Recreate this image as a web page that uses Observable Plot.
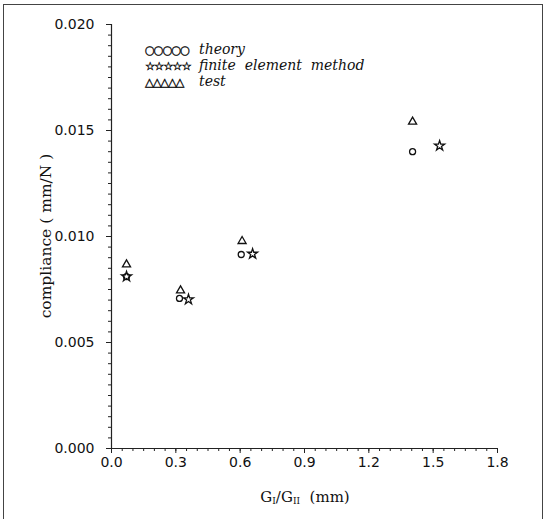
<!DOCTYPE html>
<html><head><meta charset="utf-8">
<script src="https://cdn.jsdelivr.net/npm/d3@7"></script>
<script src="https://cdn.jsdelivr.net/npm/@observablehq/plot@0.6"></script>
<style>
body{margin:0;background:#fff;}
#wrap{position:relative;width:546px;height:519px;overflow:hidden;background:#fff;}
#frame{position:absolute;left:3px;top:4px;width:540px;height:530px;border:1px solid #444;box-sizing:border-box;pointer-events:none;}
#chart{position:absolute;left:0;top:0;}
.leg{position:absolute;left:145px;font-family:"DejaVu Serif";font-style:italic;font-size:14px;line-height:16px;color:#111;white-space:pre;}
.sym{display:inline-block;width:54px;font-family:"DejaVu Sans";font-style:normal;font-size:11.5px;letter-spacing:-1.2px;-webkit-text-stroke:0.4px #111;}
#ylab{position:absolute;left:46px;top:236px;transform:translate(-50%,-50%) rotate(-90deg);font-family:"DejaVu Serif";font-size:15.5px;color:#111;white-space:pre;}
#xlab{position:absolute;left:305px;top:497px;transform:translate(-50%,-50%);font-family:"DejaVu Serif";font-size:15px;color:#111;white-space:pre;}
#xlab sub{font-size:9px;vertical-align:-2px;}
</style></head><body>
<div id="wrap">
<div id="chart"></div>
<div class="leg" style="top:41px"><span class="sym">○○○○○</span>theory</div>
<div class="leg" style="top:57px"><span class="sym">☆☆☆☆☆</span>finite  element  method</div>
<div class="leg" style="top:73px"><span class="sym">△△△△△</span>test</div>
<div id="ylab">compliance ( mm/N )</div>
<div id="xlab">G<sub>I</sub>/G<sub>II</sub>  (mm)</div>
<div id="frame"></div>
</div>
<script>
const seriesNames = ["theory", "finite element method", "test"];
const theoryX = [0.070, 0.317, 0.605, 1.404];
const theoryY = [0.00811, 0.00708, 0.00915, 0.01400];
const femX = [0.070, 0.359, 0.658, 1.530];
const femY = [0.00811, 0.00703, 0.00918, 0.01428];
const testX = [0.070, 0.322, 0.609, 1.404];
const testY = [0.00868, 0.00745, 0.00978, 0.01541];
const xTicks = [0, 0.3, 0.6, 0.9, 1.2, 1.5, 1.8];
const yTicks = [0, 0.005, 0.010, 0.015, 0.020];
const xMinorStep = 0.05;
const yMinorStep = 0.0005;

const xMinor = d3.range(0, 1.8 + 1e-9, xMinorStep);
const yMinor = d3.range(0, 0.02 + 1e-9, yMinorStep);
const mk = (xs, ys, s) => xs.map((x, i) => ({x, y: ys[i], s}));
const data = [
  ...mk(theoryX, theoryY, seriesNames[0]),
  ...mk(femX, femY, seriesNames[1]),
  ...mk(testX, testY, seriesNames[2])
];

const chart = Plot.plot({
  width: 546, height: 519,
  marginLeft: 111, marginRight: 49, marginTop: 24, marginBottom: 71,
  style: {fontFamily: "DejaVu Sans", fontSize: "14px", color: "#111", background: "transparent"},
  x: {domain: [0, 1.8]},
  y: {domain: [0, 0.02]},
  marks: [
    Plot.axisX({ticks: xMinor, tickSize: 3, tickFormat: () => "", label: null, stroke: "#222"}),
    Plot.axisX({ticks: xTicks, tickSize: 5, tickPadding: 4, tickFormat: d3.format(".1f"), label: null, stroke: "#222"}),
    Plot.axisY({ticks: yMinor, tickSize: 3, tickFormat: () => "", label: null, stroke: "#222"}),
    Plot.axisY({ticks: yTicks, tickSize: 5, tickPadding: 12, tickFormat: d3.format(".3f"), label: null, stroke: "#222"}),
    Plot.ruleY([0], {stroke: "#222", strokeWidth: 1.2}),
    Plot.ruleX([0], {stroke: "#222", strokeWidth: 1.2}),
    Plot.dot(data, {
      x: "x", y: "y",
      symbol: d => d.s === "theory" ? "circle" : d.s === "test" ? "triangle" : "star",
      r: d => d.s === "finite element method" ? 4.6 : 4.2,
      fill: "none", stroke: "#111", strokeWidth: 1.3
    })
  ]
});
document.getElementById("chart").appendChild(chart);
</script>
</body></html>
